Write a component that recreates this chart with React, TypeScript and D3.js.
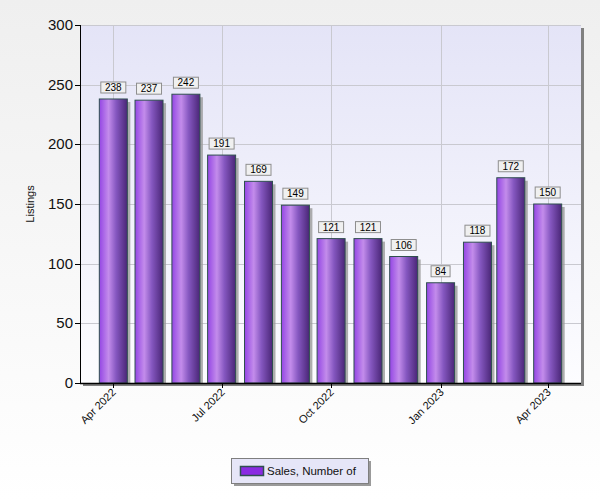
import React from "react";
import * as d3 from "d3";

const months: string[] = [
  "2022-04-01", "2022-05-01", "2022-06-01", "2022-07-01", "2022-08-01", "2022-09-01",
  "2022-10-01", "2022-11-01", "2022-12-01", "2023-01-01", "2023-02-01", "2023-03-01", "2023-04-01",
];
const sales: number[] = [238, 237, 242, 191, 169, 149, 121, 121, 106, 84, 118, 172, 150];
const yTicks: number[] = [0, 50, 100, 150, 200, 250, 300];
const xTickDates: string[] = ["2022-04-01", "2022-07-01", "2022-10-01", "2023-01-01", "2023-04-01"];
const seriesName = "Sales, Number of";
const yTitle = "Listings";

const W = 600, H = 500;
const M = { left: 80, right: 581, top: 25, bottom: 383 };
const FONT = "'Liberation Sans', Arial, sans-serif";

const parse = d3.utcParse("%Y-%m-%d");
const fmt = d3.utcFormat("%b %Y");

export default function App() {
  const dates = months.map((m) => parse(m) as Date);
  const first = dates[0], last = dates[dates.length - 1];
  const x = d3.scaleUtc()
    .domain([d3.utcDay.offset(first, -28), d3.utcDay.offset(last, 28)])
    .range([M.left, M.right]);
  const y = d3.scaleLinear().domain([0, 300]).range([M.bottom, M.top]);
  const barW = 28;
  const xt = xTickDates.map((d) => parse(d) as Date);

  return (
    <svg width={W} height={H} style={{ position: "absolute", left: 0, top: 0 }} fontFamily={FONT}>
      <defs>
        <linearGradient id="bg" x1="0" y1="0" x2="0" y2="1">
          <stop offset="0" stopColor="#efefef" />
          <stop offset="1" stopColor="#ffffff" />
        </linearGradient>
        <linearGradient id="plotbg" x1="0" y1="0" x2="0" y2="1">
          <stop offset="0" stopColor="#e4e4f7" />
          <stop offset="1" stopColor="#fdfdff" />
        </linearGradient>
        <linearGradient id="bar" x1="0" y1="0" x2="1" y2="0">
          <stop offset="0" stopColor="#9446e4" />
          <stop offset="0.33" stopColor="#c38ceb" />
          <stop offset="0.6" stopColor="#8557c0" />
          <stop offset="1" stopColor="#4a2677" />
        </linearGradient>
      </defs>
      <rect x={0} y={0} width={W} height={H} fill="url(#bg)" />
      {/* plot area shadow + background */}
      <rect x={M.left + 3} y={M.top + 3} width={M.right - M.left} height={M.bottom - M.top} fill="#808080" />
      <rect x={M.left} y={M.top} width={M.right - M.left} height={M.bottom - M.top} fill="url(#plotbg)" />
      <line x1={M.left} x2={M.right} y1={M.top + 0.5} y2={M.top + 0.5} stroke="#c8c8d8" />
      {/* grid */}
      {yTicks.slice(1).map((t) => (
        <line key={"gy" + t} x1={M.left} x2={M.right} y1={Math.round(y(t)) + 0.5} y2={Math.round(y(t)) + 0.5} stroke="#c9c9d0" />
      ))}
      {xt.map((d, i) => (
        <line key={"gx" + i} x1={Math.round(x(d)) + 0.5} x2={Math.round(x(d)) + 0.5} y1={M.top} y2={M.bottom} stroke="#c9c9d0" />
      ))}
      {/* bars */}
      {dates.map((d, i) => {
        const cx = x(d);
        const top = y(sales[i]);
        return (
          <g key={"b" + i}>
            <rect x={cx - barW / 2 + 3} y={top + 3} width={barW} height={M.bottom - top - 3} fill="#9a9a9a" opacity={0.8} />
            <rect x={cx - barW / 2} y={top} width={barW} height={M.bottom - top} fill="url(#bar)" stroke="#2f4f4f" strokeWidth={1} />
          </g>
        );
      })}
      {/* value labels */}
      {dates.map((d, i) => {
        const cx = x(d);
        const top = y(sales[i]);
        const w = String(sales[i]).length * 6 + 7;
        return (
          <g key={"l" + i}>
            <rect x={cx - w / 2} y={top - 17} width={w} height={11} fill="#f0f0f0" stroke="#8e8e8e" />
            <text x={cx} y={top - 8} textAnchor="middle" fontSize={10} fill="#000">{sales[i]}</text>
          </g>
        );
      })}
      {/* axes */}
      <line x1={M.left + 0.5} x2={M.left + 0.5} y1={M.top} y2={M.bottom + 1} stroke="#000" />
      <line x1={M.left} x2={M.right} y1={M.bottom + 0.5} y2={M.bottom + 0.5} stroke="#000" strokeWidth={1.5} />
      {yTicks.map((t) => (
        <g key={"ty" + t}>
          <line x1={M.left - 5} x2={M.left} y1={Math.round(y(t)) + 0.5} y2={Math.round(y(t)) + 0.5} stroke="#000" />
          <text x={M.left - 7} y={y(t) + 5} textAnchor="end" fontSize={15} fill="#111">{t}</text>
        </g>
      ))}
      {xt.map((d, i) => {
        const px = Math.round(x(d)) + 0.5;
        return (
          <g key={"tx" + i}>
            <line x1={px} x2={px} y1={M.bottom} y2={M.bottom + 5} stroke="#000" />
            <text transform={`translate(${px + 3},${M.bottom + 10}) rotate(-45)`} textAnchor="end" fontSize={11} fill="#111">{fmt(d)}</text>
          </g>
        );
      })}
      <text transform={`translate(34,${(M.top + M.bottom) / 2}) rotate(-90)`} textAnchor="middle" fontSize={11} fill="#111">{yTitle}</text>
      {/* legend */}
      <rect x={234} y={461} width={137} height={25} fill="#9a9a9a" />
      <rect x={231.5} y={458.5} width={137} height={25} fill="#e6e6f8" stroke="#7f7f7f" />
      <rect x={240.5} y={466.5} width={23} height={9} fill="#8a2be2" stroke="#2f4f4f" strokeWidth={1.5} />
      <text x={267} y={475} fontSize={11.5} fill="#111">{seriesName}</text>
    </svg>
  );
}
